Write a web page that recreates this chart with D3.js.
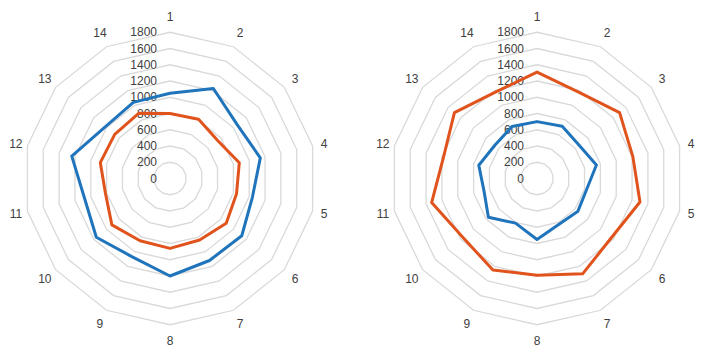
<!DOCTYPE html>
<html>
<head>
<meta charset="utf-8">
<script src="https://cdn.jsdelivr.net/npm/d3@7"></script>
<style>
  body { margin: 0; background: #fff; }
  svg { display: block; }
  text { font-family: "Liberation Sans", Arial, sans-serif; fill: #404040; }
</style>
</head>
<body>
<div id="chart"></div>
<script>
// categories round the radar
const categories = ["1","2","3","4","5","6","7","8","9","10","11","12","13","14"];
const ticks = [0, 200, 400, 600, 800, 1000, 1200, 1400, 1600, 1800];

// left radar
const leftBlue   = [1050, 1230, 1060, 1140, 1040, 1130, 1120, 1200, 1070, 1160, 1080, 1240, 1020, 1040];
const leftOrange = [800, 810, 750, 875, 840, 885, 840, 860, 850, 915, 815, 880, 870, 890];

// right radar
const rightBlue   = [700, 715, 660, 750, 625, 645, 625, 750, 610, 765, 670, 735, 660, 710];
const rightOrange = [1310, 1180, 1300, 1210, 1300, 1170, 1300, 1190, 1250, 1165, 1330, 1180, 1300, 1180];

const width = 712, height = 354;
const blue = "#1f74bb", orange = "#e1531c";

const svg = d3.select("#chart")
  .append("svg")
  .attr("width", width)
  .attr("height", height);

const r = d3.scaleLinear().domain([0, 1800]).range([0, 146.25]);
const angle = d3.scalePoint()
  .domain(categories)
  .range([0, 2 * Math.PI * (categories.length - 1) / categories.length]);

function radar(cx, cy, series) {
  const g = svg.append("g").attr("transform", `translate(${cx},${cy})`);

  // grid rings
  const ring = d3.lineRadial()
    .angle(d => angle(d))
    .curve(d3.curveLinearClosed);
  g.selectAll(".ring")
    .data(ticks.slice(1))
    .join("path")
      .attr("class", "ring")
      .attr("d", t => ring.radius(r(t))(categories))
      .attr("fill", "none")
      .attr("stroke", "#d9d9d9")
      .attr("stroke-width", 1.3);

  // value labels
  g.selectAll(".tick")
    .data(ticks)
    .join("text")
      .attr("class", "tick")
      .attr("x", -13)
      .attr("y", t => -r(t))
      .attr("dy", "0.35em")
      .attr("text-anchor", "end")
      .style("font-size", "12px")
      .text(t => t);

  // category labels
  g.selectAll(".cat")
    .data(categories)
    .join("text")
      .attr("class", "cat")
      .attr("x", c => (157 + 5 * Math.abs(Math.cos(angle(c)))) * Math.sin(angle(c)))
      .attr("y", c => -(157 + 5 * Math.abs(Math.cos(angle(c)))) * Math.cos(angle(c)))
      .attr("dy", "0.35em")
      .attr("text-anchor", "middle")
      .style("font-size", "12px")
      .text(c => c);

  // series
  const line = d3.lineRadial()
    .angle((d, i) => angle(categories[i]))
    .radius(d => r(d))
    .curve(d3.curveLinearClosed);
  series.forEach(s => {
    g.append("path")
      .attr("d", line(s.values))
      .attr("fill", "none")
      .attr("stroke", s.color)
      .attr("stroke-width", 3)
      .attr("stroke-linejoin", "round");
  });
}

radar(170, 178.5, [
  { values: leftBlue, color: blue },
  { values: leftOrange, color: orange }
]);
radar(537, 178.5, [
  { values: rightBlue, color: blue },
  { values: rightOrange, color: orange }
]);
</script>
</body>
</html>
